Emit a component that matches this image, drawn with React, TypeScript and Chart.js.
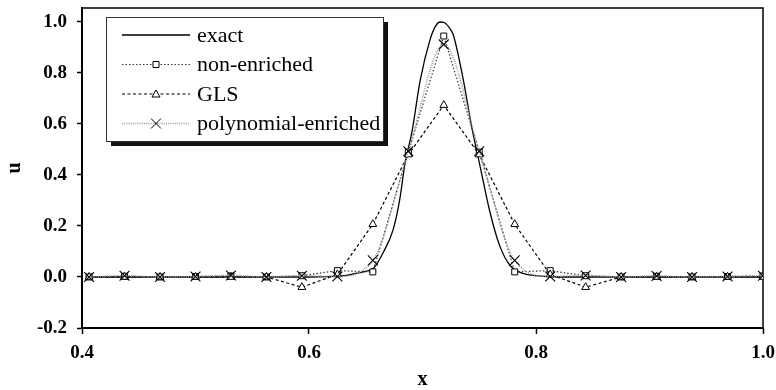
import React, { useEffect, useRef } from "react";
import { Chart, registerables } from "chart.js";

Chart.register(...registerables);

// Node positions (x) and nodal values of the numerical solutions
const nodeX = [
  0.40625, 0.4375, 0.46875, 0.5, 0.53125, 0.5625, 0.59375, 0.625, 0.65625, 0.6875,
  0.71875, 0.75, 0.78125, 0.8125, 0.84375, 0.875, 0.90625, 0.9375, 0.96875, 1.0,
];
const nonEnriched = [
  0.0, 0.003, 0.0, 0.002, 0.004, 0.0, 0.005, 0.025, 0.02, 0.49,
  0.945, 0.49, 0.02, 0.025, 0.005, 0.0, 0.003, 0.0, 0.002, 0.004,
];
const glsValues = [
  0.0, 0.0, 0.0, 0.0, 0.0, 0.0, -0.04, 0.01, 0.207, 0.48,
  0.674, 0.48, 0.207, 0.01, -0.04, 0.0, 0.0, 0.0, 0.0, 0.0,
];
const polyEnriched = [
  0.0, 0.005, 0.0, 0.002, 0.006, 0.0, 0.005, 0.002, 0.065, 0.493,
  0.912, 0.493, 0.065, 0.002, 0.006, 0.0, 0.004, 0.0, 0.002, 0.005,
];

// Exact solution
const exactX = [
  0.40625, 0.6, 0.63, 0.64, 0.65, 0.657, 0.6655, 0.6743, 0.68, 0.6846, 0.6905, 0.698,
  0.7066, 0.711, 0.7155, 0.7195, 0.724, 0.7271, 0.736, 0.7433, 0.7507, 0.7595, 0.768,
  0.777, 0.789, 0.8, 0.82, 1.0,
];
const exactU = [
  0.0, 0.0, 0.005, 0.013, 0.022, 0.035, 0.097, 0.188, 0.305, 0.447, 0.564, 0.772,
  0.93, 0.98, 1.0, 0.997, 0.975, 0.95, 0.772, 0.59, 0.435, 0.253, 0.123,
  0.046, 0.013, 0.005, 0.0, 0.0,
];

const seriesNames = ["exact", "non-enriched", "GLS", "polynomial-enriched"];
const xTickValues = [0.4, 0.6, 0.8, 1.0];
const yTickValues = [-0.2, 0.0, 0.2, 0.4, 0.6, 0.8, 1.0];
const xTitle = "x";
const yTitle = "u";

const toPoints = (xs: number[], ys: number[]) => xs.map((x, i) => ({ x, y: ys[i] }));

function drawMarker(ctx: CanvasRenderingContext2D, style: string, x: number, y: number) {
  ctx.save();
  ctx.setLineDash([]);
  ctx.strokeStyle = "#000";
  ctx.fillStyle = "#fff";
  ctx.lineWidth = 1;
  ctx.beginPath();
  if (style === "rect") {
    ctx.rect(x - 3, y - 3, 6, 6);
    ctx.fill();
    ctx.stroke();
  } else if (style === "triangle") {
    ctx.moveTo(x, y - 4);
    ctx.lineTo(x + 4, y + 3);
    ctx.lineTo(x - 4, y + 3);
    ctx.closePath();
    ctx.fill();
    ctx.stroke();
  } else if (style === "crossRot") {
    ctx.moveTo(x - 5, y - 5);
    ctx.lineTo(x + 5, y + 5);
    ctx.moveTo(x + 5, y - 5);
    ctx.lineTo(x - 5, y + 5);
    ctx.stroke();
  }
  ctx.restore();
}

const boxLegend = {
  id: "boxLegend",
  afterDraw(chart: any) {
    const ctx: CanvasRenderingContext2D = chart.ctx;
    const bx = 106, by = 17, bw = 277, bh = 124;
    ctx.save();
    ctx.fillStyle = "#111";
    ctx.fillRect(bx + 5, by + 5, bw, bh);
    ctx.fillStyle = "#fff";
    ctx.fillRect(bx, by, bw, bh);
    ctx.strokeStyle = "#333";
    ctx.lineWidth = 1;
    ctx.strokeRect(bx + 0.5, by + 0.5, bw, bh);
    chart.data.datasets.forEach((ds: any, i: number) => {
      const y = by + 18 + i * 29.5;
      ctx.strokeStyle = ds.borderColor;
      ctx.lineWidth = ds.borderWidth;
      ctx.setLineDash(ds.borderDash || []);
      ctx.beginPath();
      ctx.moveTo(122, y);
      ctx.lineTo(190, y);
      ctx.stroke();
      ctx.setLineDash([]);
      if (ds.pointRadius > 0) drawMarker(ctx, ds.pointStyle, 156, y);
      ctx.fillStyle = "#000";
      ctx.font = "22px 'Liberation Serif'";
      ctx.textAlign = "left";
      ctx.textBaseline = "middle";
      ctx.fillText(ds.label, 197, y + 1);
    });
    ctx.restore();
  },
};

const frameBox = {
  id: "frameBox",
  beforeDatasetsDraw(chart: any) {
    const { ctx, chartArea } = chart;
    ctx.save();
    ctx.strokeStyle = "#000";
    ctx.lineWidth = 1.5;
    ctx.beginPath();
    ctx.moveTo(chartArea.left, chartArea.top);
    ctx.lineTo(chartArea.right, chartArea.top);
    ctx.lineTo(chartArea.right, chartArea.bottom);
    ctx.stroke();
    ctx.restore();
  },
};

export default function App() {
  const ref = useRef<HTMLCanvasElement>(null);

  useEffect(() => {
    document.body.style.margin = "0";
    const canvas = ref.current;
    if (!canvas) return;
    const tickFont = { family: "'Liberation Serif'", size: 19, weight: "bold" as const };
    const chart = new Chart(canvas, {
      type: "line",
      data: {
        datasets: [
          {
            label: seriesNames[0],
            data: toPoints(exactX, exactU),
            borderColor: "#000",
            borderWidth: 1.3,
            pointRadius: 0,
            cubicInterpolationMode: "monotone",
            order: 3,
          },
          {
            label: seriesNames[1],
            data: toPoints(nodeX, nonEnriched),
            borderColor: "#333",
            borderWidth: 1.2,
            borderDash: [1.5, 2],
            pointStyle: "rect",
            pointRadius: 4.2,
            pointBorderWidth: 1,
            pointBorderColor: "#000",
            pointBackgroundColor: "#fff",
            order: 2,
          },
          {
            label: seriesNames[2],
            data: toPoints(nodeX, glsValues),
            borderColor: "#000",
            borderWidth: 1.2,
            borderDash: [3, 2.5],
            pointStyle: "triangle",
            pointRadius: 4.5,
            pointBorderWidth: 1,
            pointBorderColor: "#000",
            pointBackgroundColor: "#fff",
            order: 1,
          },
          {
            label: seriesNames[3],
            data: toPoints(nodeX, polyEnriched),
            borderColor: "#9a9a9a",
            borderWidth: 1.6,
            borderDash: [1, 1.2],
            cubicInterpolationMode: "monotone",
            pointStyle: "crossRot",
            pointRadius: 7,
            pointBorderWidth: 1.1,
            pointBorderColor: "#000",
            order: 0,
          },
        ],
      },
      options: {
        responsive: false,
        animation: false,
        layout: { padding: { top: 6, right: 13, left: 0, bottom: 0 } },
        plugins: { legend: { display: false }, tooltip: { enabled: false } },
        scales: {
          x: {
            type: "linear",
            min: 0.4,
            max: 1.0,
            afterBuildTicks: (s: any) => {
              s.ticks = xTickValues.map((v) => ({ value: v }));
            },
            afterFit: (s: any) => {
              s.height = 62;
              s.paddingLeft = 0;
              s.paddingRight = 0;
            },
            ticks: {
              font: tickFont,
              color: "#000",
              padding: 8,
              maxRotation: 0,
              callback: (v: any) => Number(v).toFixed(1),
            },
            grid: {
              display: true,
              drawOnChartArea: false,
              drawTicks: true,
              tickLength: 6,
              tickColor: "#000",
              tickWidth: 1.5,
            },
            border: { display: true, color: "#000", width: 2 },
            title: {
              display: true,
              text: xTitle,
              color: "#000",
              font: { family: "'Liberation Serif'", size: 20, weight: "bold", lineHeight: 1 },
              padding: { top: 0, bottom: 0 },
            },
          },
          y: {
            type: "linear",
            min: -0.2,
            max: 1.0545,
            afterBuildTicks: (s: any) => {
              s.ticks = yTickValues.map((v) => ({ value: v }));
            },
            afterFit: (s: any) => {
              s.width = 82;
              s.paddingTop = 0;
              s.paddingBottom = 0;
            },
            ticks: {
              font: tickFont,
              color: "#000",
              padding: 10,
              callback: (v: any) => Number(v).toFixed(1),
            },
            grid: {
              display: true,
              drawOnChartArea: false,
              drawTicks: true,
              tickLength: 5,
              tickColor: "#000",
              tickWidth: 1.5,
            },
            border: { display: true, color: "#000", width: 2 },
            title: {
              display: true,
              text: yTitle,
              color: "#000",
              font: { family: "'Liberation Serif'", size: 20, weight: "bold", lineHeight: 1 },
              padding: { top: 5, bottom: 0 },
            },
          },
        },
      },
      plugins: [frameBox, boxLegend],
    } as any);
    return () => chart.destroy();
  }, []);

  return (
    <div style={{ width: 776, height: 390 }}>
      <canvas ref={ref} width={776} height={390} style={{ display: "block" }} />
    </div>
  );
}
